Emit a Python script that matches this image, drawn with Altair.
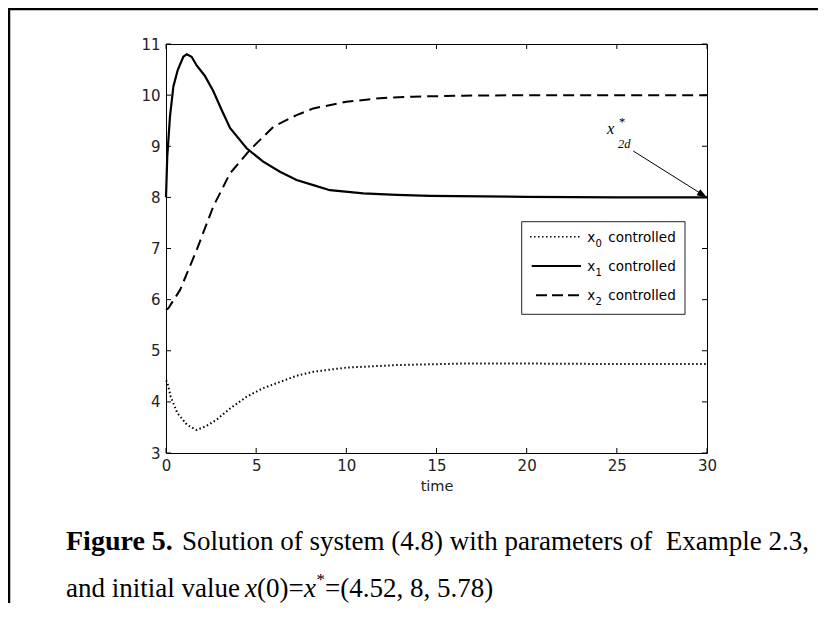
import altair as alt
import pandas as pd

# ---------------- data ----------------
t_x0 = [0, 0.07, 0.26, 0.63, 1.17, 1.70, 2.25, 2.80, 3.55, 4.47, 5.39, 6.32, 7.24, 8.17, 10.0, 12.8, 16.5, 20, 25, 30]
v_x0 = [4.42, 4.39, 4.10, 3.78, 3.55, 3.45, 3.53, 3.65, 3.87, 4.10, 4.27, 4.39, 4.51, 4.59, 4.67, 4.72, 4.75, 4.75, 4.74, 4.74]

t_x1 = [0, 0.07, 0.22, 0.41, 0.65, 0.96, 1.15, 1.42, 1.70, 2.15, 2.62, 3.10, 3.55, 4.47, 5.39, 6.32, 7.24, 8.17, 9.09, 10.94, 12.79, 14.64, 20, 25, 30]
v_x1 = [8.0, 8.8, 9.58, 10.17, 10.49, 10.75, 10.80, 10.75, 10.58, 10.38, 10.08, 9.70, 9.36, 8.96, 8.70, 8.50, 8.34, 8.24, 8.14, 8.08, 8.05, 8.03, 8.01, 8.0, 8.0]

t_x2 = [0, 0.13, 0.78, 1.70, 2.62, 3.55, 4.66, 5.95, 7.24, 8.17, 10.0, 11.86, 13.7, 16.5, 20, 25, 30]
v_x2 = [5.80, 5.83, 6.19, 6.97, 7.82, 8.47, 8.93, 9.38, 9.61, 9.74, 9.87, 9.94, 9.97, 9.99, 10.0, 10.0, 10.0]

x_ticks = [0, 5, 10, 15, 20, 25, 30]
y_ticks = [3, 4, 5, 6, 7, 8, 9, 10, 11]

legend_subs = ["0", "1", "2"]
legend_word = "controlled"

arrow_start = (25.91, 8.907)
arrow_end = (30, 8.0)

caption_bold = "Figure 5."
caption_l1 = "Solution of system (4.8) with parameters of \u00a0Example 2.3,"
caption_l2 = ["and initial value", "x", "(0)=", "x", "*", "=(4.52, 8, 5.78)"]

# ---------------- layout ----------------
W, H = 541, 409
PAD = {"left": 158, "top": 36, "right": 111, "bottom": 150}
SANS = "DejaVu Sans"
SERIF = "Liberation Serif"

xs = alt.Scale(domain=[0, 30], nice=False, zero=False)
ys = alt.Scale(domain=[3, 11], nice=False, zero=False)
XA = alt.Axis(values=x_ticks, labelFont=SANS, labelFontSize=15,
              labelColor="#222", ticks=False, domain=False, grid=False,
              labelPadding=5, labelFlush=False, titleFont=SANS, titleFontSize=14.5,
              titleFontWeight="normal", titleColor="#222", titlePadding=6)
YA = alt.Axis(values=y_ticks, labelFont=SANS, labelFontSize=15, labelColor="#222",
              ticks=False, domain=False, grid=False, labelPadding=6, labelFlush=False)
one = pd.DataFrame({"k": [0]})


def X(field):
    return alt.X(field, scale=xs, axis=XA, title="time")


def Y(field):
    return alt.Y(field, scale=ys, axis=YA, title=None)


def series(t, v, dash=None, width=2):
    df = pd.DataFrame({"time": t, "value": v})
    kw = dict(color="black", strokeWidth=width)
    if dash:
        kw["strokeDash"] = dash
    return alt.Chart(df).mark_line(**kw).encode(x=X("time:Q"), y=Y("value:Q"))


def txt(s, x, y, size, font=SERIF, style="normal", weight="normal", align="left", color="black"):
    return alt.Chart(one).mark_text(text=s, align=align, baseline="alphabetic", font=font,
                                    fontSize=size, fontStyle=style, fontWeight=weight,
                                    color=color).encode(x=alt.value(x), y=alt.value(y))


def rule(x, x2, y, y2, width=1, dash=None, color="black"):
    kw = dict(color=color, strokeWidth=width)
    if dash:
        kw["strokeDash"] = dash
    return alt.Chart(one).mark_rule(**kw).encode(
        x=alt.value(x), x2=alt.value(x2), y=alt.value(y), y2=alt.value(y2))


layers = []

# curves
layers.append(series(t_x1, v_x1, width=2.2))
layers.append(series(t_x2, v_x2, dash=[11, 6]))
layers.append(series(t_x0, v_x0, dash=[1.5, 2.5]))

# inward ticks on all four sides (MATLAB box style)
xt = pd.DataFrame({"time": x_ticks})
yt = pd.DataFrame({"value": y_ticks})
for y0, y1 in [(H, H - 5), (0, 5)]:
    layers.append(alt.Chart(xt).mark_rule(color="black", strokeWidth=1).encode(
        x=X("time:Q"), y=alt.value(y0), y2=alt.value(y1)))
for x0, x1 in [(0, 5), (W, W - 5)]:
    layers.append(alt.Chart(yt).mark_rule(color="black", strokeWidth=1).encode(
        y=Y("value:Q"), x=alt.value(x0), x2=alt.value(x1)))

# legend box
layers.append(alt.Chart(one).mark_rect(fill="white", stroke="#222", strokeWidth=1).encode(
    x=alt.value(355.7), x2=alt.value(519), y=alt.value(177.7), y2=alt.value(270.3)))
legend_dash = [[1.5, 2.5], None, [11, 5]]
legend_x0 = [364, 365.7, 370]
for i, (sub, dash) in enumerate(zip(legend_subs, legend_dash)):
    base = 197.7 + i * 29.3
    layers.append(rule(legend_x0[i], 415, base - 5, base - 5, width=2 if dash != [1.5, 2.5] else 1.5, dash=dash))
    layers.append(txt("x", 421.3, base, 13.5, font=SANS))
    layers.append(txt(sub, 429.5, base + 5, 10, font=SANS))
    layers.append(txt(legend_word, 442.3, base, 13.5, font=SANS))

# annotation x*_2d with arrow
ann = pd.DataFrame({"time": [arrow_start[0]], "value": [arrow_start[1]],
                    "t2": [arrow_end[0]], "v2": [arrow_end[1]]})
layers.append(alt.Chart(ann).mark_rule(color="black", strokeWidth=1).encode(
    x=X("time:Q"), y=Y("value:Q"), x2="t2:Q", y2="v2:Q"))
head = pd.DataFrame({"time": [arrow_end[0]], "value": [arrow_end[1]]})
layers.append(alt.Chart(head).mark_point(shape="M0,0L-2,-0.7L-2,0.7Z", size=100, angle=31,
                                         filled=True, color="black", opacity=1, strokeWidth=0).encode(
    x=X("time:Q"), y=Y("value:Q")))
layers.append(txt("x", 441, 90.3, 16.5, style="italic"))
layers.append(txt("2d", 452, 104.3, 12.5, style="italic"))
layers.append(txt("*", 456, 82, 12.5, align="center"))

# page frame (top and left lines)
layers.append(rule(-158, W + PAD["right"], -35, -35, width=2.5))
layers.append(rule(-157, -157, -36, H + PAD["bottom"], width=2.5))

# caption
CS = 27
layers.append(txt(caption_bold, -100, 506, 28, weight="bold"))
layers.append(txt(caption_l1, 16, 506, CS))
l2_x = [-100, 79, 91, 138, 150.5, 159]
for i, s in enumerate(caption_l2):
    style = "italic" if s == "x" else "normal"
    size = 17 if s == "*" else CS
    y = 541 if s == "*" else 553
    layers.append(txt(s, l2_x[i], y, size, style=style))

chart = alt.layer(*layers).properties(
    width=W, height=H, autosize="none", padding=PAD
).configure_view(stroke="black", strokeWidth=1)

chart.save("out.html", embed_options={"renderer": "svg", "actions": False})
